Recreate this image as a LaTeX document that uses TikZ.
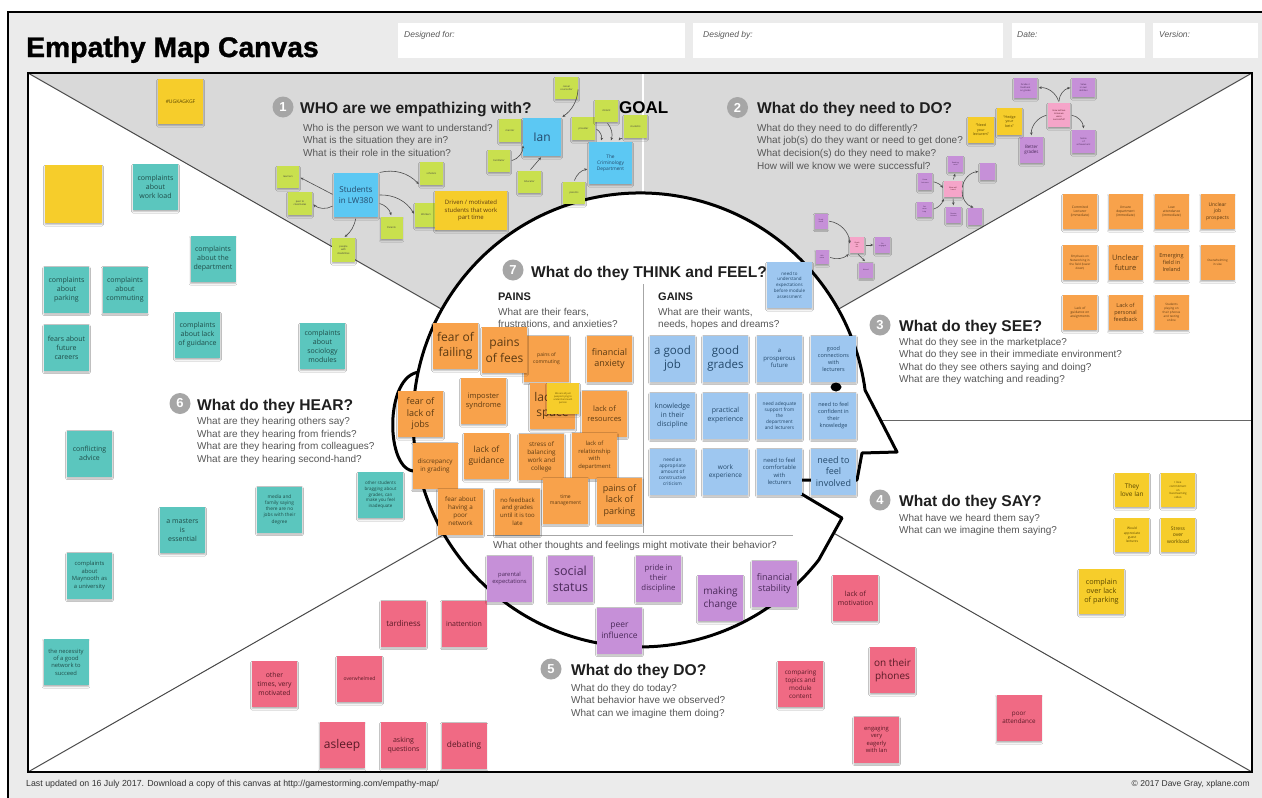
\documentclass[tikz,border=0pt]{standalone}
\usepackage{fontspec}
\setmainfont{Liberation Sans}
\newfontfamily\stf{Open Sans}
\newfontfamily\titlef{Liberation Sans Bold}[FakeBold=1.3]
\usetikzlibrary{shadows.blur,arrows.meta}
\definecolor{cbg}{HTML}{EBEBEB}
\definecolor{ctop}{HTML}{D9D9D9}
\definecolor{cteal}{HTML}{5BC6BE}
\definecolor{cyel}{HTML}{F6CD2B}
\definecolor{clime}{HTML}{C9E04E}
\definecolor{csblue}{HTML}{5CC8F3}
\definecolor{corange}{HTML}{F8A24B}
\definecolor{clblue}{HTML}{9EC7F0}
\definecolor{cpurp}{HTML}{C690D8}
\definecolor{cred}{HTML}{F06A84}
\definecolor{cpink}{HTML}{F5A5C9}
\definecolor{cnum}{HTML}{A6A6A6}
\definecolor{cq}{HTML}{575757}
\definecolor{cline}{HTML}{4A4A4A}
\definecolor{cttext}{HTML}{1F4D49}
\definecolor{cbtext}{HTML}{24496B}
\definecolor{cotext}{HTML}{5C3A12}
\definecolor{cptext}{HTML}{4B2A5A}
\definecolor{crtext}{HTML}{5A1A26}
\definecolor{cytext}{HTML}{5A4700}
\tikzset{
 st/.style={rectangle, inner sep=0.5pt, align=center, text=black!78,
   blur shadow={shadow xshift=0pt, shadow yshift=-1.6pt, shadow blur radius=1.4pt, shadow blur steps=4, shadow opacity=30}},
 sz/.style 2 args={minimum width=#1, minimum height=#2},
 fz/.style={font={\stf\pgfmathsetmacro\lsk{1.28*#1}\fontsize{#1}{\lsk}\selectfont}},
 steal/.style={st, fill=cteal, text=cttext, sz={45}{46}},
 syel/.style={st, fill=cyel, text=cytext},
 slime/.style={st, fill=clime, text=black!75, sz={22}{22}, fz=2.5},
 sblu/.style={st, fill=csblue, text=cbtext},
 sora/.style={st, fill=corange, text=cotext, sz={45}{46}},
 slbl/.style={st, fill=clblue, text=cbtext, sz={45}{46}},
 spur/.style={st, fill=cpurp, text=cptext, sz={45}{46}},
 sred/.style={st, fill=cred, text=crtext, sz={45}{46}},
 sdo/.style={st, fill=cpurp, text=cptext, fz=2.3},
 spk/.style={st, fill=cpink, text=crtext, fz=2.3},
 numc/.style={circle, fill=cnum, text=white, inner sep=0pt, minimum size=21, font=\bfseries\fontsize{13}{13}\selectfont},
 hd/.style={anchor=base west, inner sep=0pt, text=black!88, font=\bfseries\fontsize{15.6}{18}\selectfont},
 qs/.style={anchor=base west, inner sep=0pt, text=cq, font=\fontsize{10}{12}\selectfont},
 conn/.style={draw=black!70, line width=0.6pt, -{Stealth[length=3pt,width=2.6pt]}, shorten >=1.5pt, shorten <=1.5pt},
}
\begin{document}
\begin{tikzpicture}[x=1pt,y=-1pt]
\useasboundingbox (0,0) rectangle (1262,798);
% background and frame
\fill[white] (0,0) rectangle (1262,798);
\fill[cbg] (8,12) rectangle (1262,798);
\draw[line width=2pt] (8,798) -- (8,12) -- (1262,12);
\node[anchor=base west, inner sep=0pt, font=\titlef\fontsize{28.3}{31}\selectfont] (title) at (26,57) {Empathy Map Canvas};
\fill[white] (398,23) rectangle (685,58);
\fill[white] (693,23) rectangle (1003,58);
\fill[white] (1012,23) rectangle (1145,58);
\fill[white] (1153,23) rectangle (1258,58);
\node[anchor=base west, inner sep=0pt, text=black!65, font=\itshape\fontsize{8.5}{10}\selectfont] (lfor) at (404,37) {Designed for:};
\node[anchor=base west, inner sep=0pt, text=black!65, font=\itshape\fontsize{8.5}{10}\selectfont] (lby) at (703,37) {Designed by:};
\node[anchor=base west, inner sep=0pt, text=black!65, font=\itshape\fontsize{8.5}{10}\selectfont] (ldate) at (1017,37) {Date:};
\node[anchor=base west, inner sep=0pt, text=black!65, font=\itshape\fontsize{8.5}{10}\selectfont] (lver) at (1159,37) {Version:};
% canvas
\fill[white] (28,73) rectangle (1252,772);
\fill[ctop] (28,73) -- (1252,73) -- (640,422.5) -- cycle;
\draw[white, line width=1.5pt] (643,73) -- (643,320);
\draw[cline, line width=1pt] (28,73) -- (640,422.5) -- (1252,73);
\draw[cline, line width=1pt] (28,772) -- (640,422.5) -- (1252,772);
\draw[black!60, line width=1pt] (640,420) -- (1252,420);
\draw[line width=2pt] (28,73) rectangle (1252,772);
% head
\draw[line width=3pt, fill=white] (420,372) .. controls (384,374) and (385,472) .. (415,471);
\draw[line width=3pt, fill=white, line join=round] (865,390) -- (897,452) -- (862,453) -- (857,480) -- (778,480) -- (842,518) -- (818.7,560) arc[start angle=38.1, end angle=352.4, radius=227] -- cycle;
\fill (836,387) ellipse [x radius=5.5, y radius=4.5];
\draw[black!35, line width=0.8pt] (643,284) -- (643,533);
\draw[black!35, line width=0.8pt] (487,535) -- (793,535);
% headings
\node[numc] (n1) at (283,107) {1};
\node[hd] (h1) at (300,113) {WHO are we empathizing with?};
\node[qs] (q11) at (303,131) {Who is the person we want to understand?};
\node[qs] (q12) at (303,143.8) {What is the situation they are in?};
\node[qs] (q13) at (303,156.6) {What is their role in the situation?};
\node[anchor=base west, inner sep=0pt, font=\bfseries\fontsize{17}{20}\selectfont] (goal) at (619,113) {GOAL};
\node[numc] (n2) at (737.5,107.5) {2};
\node[hd] (h2) at (757,113) {What do they need to DO?};
\node[qs] (q21) at (757,131) {What do they need to do differently?};
\node[qs] (q22) at (757,143.8) {What job(s) do they want or need to get done?};
\node[qs] (q23) at (757,156.6) {What decision(s) do they need to make?};
\node[qs] (q24) at (757,169.4) {How will we know we were successful?};
\node[numc] (n3) at (880,325) {3};
\node[hd] (h3) at (899,331) {What do they SEE?};
\node[qs] (q31) at (899,345) {What do they see in the marketplace?};
\node[qs] (q32) at (899,357.6) {What do they see in their immediate environment?};
\node[qs] (q33) at (899,370.2) {What do they see others saying and doing?};
\node[qs] (q34) at (899,382.8) {What are they watching and reading?};
\node[numc] (n4) at (880,500) {4};
\node[hd] (h4) at (899,506) {What do they SAY?};
\node[qs] (q41) at (899,521) {What have we heard them say?};
\node[qs] (q42) at (899,533.6) {What can we imagine them saying?};
\node[numc] (n5) at (551,669) {5};
\node[hd] (h5) at (571,675) {What do they DO?};
\node[qs] (q51) at (571,691) {What do they do today?};
\node[qs] (q52) at (571,703.6) {What behavior have we observed?};
\node[qs] (q53) at (571,716.2) {What can we imagine them doing?};
\node[numc] (n6) at (180,403.5) {6};
\node[hd] (h6) at (197,410) {What do they HEAR?};
\node[qs] (q61) at (197,424.5) {What are they hearing others say?};
\node[qs] (q62) at (197,437.1) {What are they hearing from friends?};
\node[qs] (q63) at (197,449.7) {What are they hearing from colleagues?};
\node[qs] (q64) at (197,462.3) {What are they hearing second-hand?};
\node[numc] (n7) at (513,270) {7};
\node[hd] (h7) at (531,277) {What do they THINK and FEEL?};
\node[anchor=base west, inner sep=0pt, text=black!88, font=\bfseries\fontsize{11}{13}\selectfont] (pains) at (498,300) {PAINS};
\node[qs] (pq1) at (498,315) {What are their fears,};
\node[qs] (pq2) at (498,327.6) {frustrations, and anxieties?};
\node[anchor=base west, inner sep=0pt, text=black!88, font=\bfseries\fontsize{11}{13}\selectfont] (gains) at (658,300) {GAINS};
\node[qs] (gq1) at (658,315) {What are their wants,};
\node[qs] (gq2) at (658,327.6) {needs, hopes and dreams?};
\node[qs] (mq) at (493,548.5) {What other thoughts and feelings might motivate their behavior?};
% footer
\node[anchor=base west, inner sep=0pt, text=black!80, font=\fontsize{8.8}{10}\selectfont] (foot1) at (26,786) {Last updated on 16 July 2017. Download a copy of this canvas at http://gamestorming.com/empathy-map/};
\node[anchor=base east, inner sep=0pt, text=black!80, font=\fontsize{8.5}{10}\selectfont] (foot2) at (1250,786) {© 2017 Dave Gray, xplane.com};
% HEAR stickies
\node[syel, sz={45}{45}, fz=5] (y1) at (180.5,101.5) {\#UGKAGKGF};
\node[syel, sz={57}{58}] (y2) at (73.5,194) {};
\node[steal, fz=7] (t1) at (155.5,187) {complaints\\about\\work load};
\node[steal, fz=7] (t2) at (213,259) {complaints\\about the\\department};
\node[steal, fz=7] (t3) at (66.5,289.5) {complaints\\about\\parking};
\node[steal, fz=7] (t4) at (125,289.5) {complaints\\about\\commuting};
\node[steal, fz=7] (t5) at (197.5,335) {complaints\\about lack\\of guidance};
\node[steal, fz=7] (t6) at (66.5,347.5) {fears about\\future\\careers};
\node[steal, fz=7] (t7) at (322.5,346) {complaints\\about\\sociology\\modules};
\node[steal, fz=7] (t8) at (89.5,453.5) {conflicting\\advice};
\node[steal, fz=4.5] (t9) at (380.5,495) {other students\\bragging about\\grades, can\\make you feel\\inadequate};
\node[steal, fz=4.8] (t10) at (279.5,509.5) {media and\\family saying\\there are no\\jobs with their\\degree};
\node[steal, fz=7] (t11) at (182.5,530) {a masters\\is\\essential};
\node[steal, fz=5.8] (t12) at (89.5,575.5) {complaints\\about\\Maynooth as\\a university};
\node[steal, fz=5.8] (t13) at (66,662) {the necessity\\of a good\\network to\\succeed};
% WHO stickies
\node[slime] (g1) at (288,177) {learners};
\node[slime, sz={24}{23}] (g2) at (300,203.5) {peer to\\classmates};
\node[sblu, sz={44}{44}, fz=8] (b1) at (356,195) {Students\\in LW380};
\node[slime] (g3) at (391.5,228) {Parents};
\node[slime, sz={22}{24}] (g4) at (426,215) {Workers};
\node[slime, sz={23}{24}] (g5) at (343.5,250) {people\\with\\disabilities};
\node[slime, sz={23}{23}] (g6) at (431.5,173.5) {scholars};
\node[syel, sz={72}{39}, fz=6, text=cotext] (y3) at (471,210.5) {Driven / motivated\\students that work\\part time};
\node[slime, sz={22}{23}] (g7) at (510,130.5) {mentor};
\node[sblu, sz={38}{38}, fz=12] (b2) at (542,137) {Ian};
\node[slime] (g8) at (499,161) {Facilitator};
\node[slime, sz={23}{22}] (g9) at (529.5,182) {Educator};
\node[slime, sz={23}{22}] (g10) at (566.5,88) {career\\counsellor};
\node[slime, sz={23}{23}] (g11) at (583.5,128.5) {provider};
\node[slime, sz={23}{22}] (g12) at (606.5,111) {distant};
\node[slime, sz={23}{23}] (g13) at (635.5,126.5) {students};
\node[sblu, sz={43}{42}, fz=4.8] (b3) at (610.5,163) {The\\Criminology\\Department};
\node[slime] (g14) at (574,193) {parents};
\draw[conn] (b1.west) -- (g1.east);
\draw[conn] (b1.205) to[bend left=35] (g2.east);
\draw[conn] (b1.north east) to[bend left=30] (g6.south west);
\draw[conn] (b1.east) to[bend left=30] (g4.west);
\draw[conn] (b1.340) to[bend left=30] (g3.north);
\draw[conn] (b1.south) to[bend left=20] (g5.north);
\draw[conn] (g10.east) to[bend left=25] (b2.north east);
\draw[conn] (g8.east) to[bend right=40] (b2.200);
\draw[conn] (g9.north) -- (b2.south);
\draw[conn] (g11.east) to[bend left=40] (b3.115);
\draw[conn] (g12.south) to[bend left=30] (b3.north);
\draw[conn] (g13.south west) to[bend right=30] (b3.70);
\draw[conn] (g14.north) to[bend left=30] (b3.195);
% DO (need) stickies
\node[sdo, sz={23}{20}] (d1) at (1025.5,88) {Grades /\\feedback\\on grades};
\node[sdo, sz={23}{19}] (d2) at (1083.5,87.5) {Value\\in own\\abilities};
\node[spk, sz={22}{24}] (k1) at (1059,115) {How will we\\know we\\were\\successful?};
\node[sdo, sz={23}{23}] (d3) at (1083.5,141.5) {Sense\\of\\achievement};
\node[sdo, sz={23}{26}, fz=4.5] (d4) at (1031.5,150) {Better\\grades};
\node[syel, sz={26}{26}, fz=3.6] (y4) at (981,130) {“Need\\your\\lecturers”};
\node[syel, sz={25}{27}, fz=3.6] (y5) at (1009.5,121.5) {“Hedge\\your\\bets”};
\node[sdo, sz={15}{16}, fz=1.8] (d5) at (955.5,164) {Reading\\more};
\node[sdo, sz={15}{17}] (d6) at (987.5,171.5) {};
\node[sdo, sz={14}{17}, fz=1.8] (d7) at (925,181.5) {Know\\lecturers};
\node[spk, sz={18}{16}, fz=1.8] (k2) at (953,189) {What will\\I need};
\node[sdo, sz={15}{15}, fz=1.8] (d8) at (924.5,209.5) {Get\\more\\help};
\node[sdo, sz={15}{16}, fz=1.8] (d9) at (953.5,215) {Greater\\interest};
\node[sdo, sz={14}{17}] (d10) at (975,216.5) {};
\node[spk, sz={14}{16}, fz=1.8] (k3) at (857,245) {Goals\\for\\me};
\node[sdo, sz={15}{16}, fz=1.8] (d11) at (882.5,245) {Be\\engaged};
\node[sdo, sz={13}{15}, fz=1.8] (d12) at (821,221) {Study\\more};
\node[sdo, sz={13}{14}, fz=1.8] (d13) at (822,257) {Ask\\more};
\node[sdo, sz={14}{15}, fz=1.8] (d14) at (866,270) {Attend};
\draw[conn] (k1.north) to[bend right=40] (d1.east);
\draw[conn] (k1.north) to[bend left=40] (d2.west);
\draw[conn] (k1.east) to[bend left=40] (d3.north);
\draw[conn] (k1.west) to[bend right=40] (d4.north);
\draw[conn] (k2.north) -- (d5.south);
\draw[conn] (k2.east) to[bend left=40] (d6.west);
\draw[conn] (k2.east) to[bend right=40] (d10.north);
\draw[conn] (k2.south) -- (d9.north);
\draw[conn] (d7.east) to[bend left=20] (k2.west);
\draw[conn] (d8.east) to[bend right=30] (k2.south west);
\draw[conn] (k3.east) -- (d11.west);
\draw[conn] (d12.east) to[bend left=40] (k3.west);
\draw[conn] (d13.east) to[bend right=30] (k3.south west);
\draw[conn] (k3.south) -- (d14.north);
% SEE stickies
\node[sora, sz={34}{35}, fz=3.3] (o1) at (1080,211.5) {Commited\\Lecturer\\(immediate)};
\node[sora, sz={34}{35}, fz=3.3] (o2) at (1125.5,211.5) {Unsure\\department\\(immediate)};
\node[sora, sz={34}{35}, fz=3.3] (o3) at (1171.5,211.5) {Low\\attendance\\(immediate)};
\node[sora, sz={34}{35}, fz=5] (o4) at (1217.5,211.5) {Unclear\\job\\prospects};
\node[sora, sz={34}{35}, fz=3] (o5) at (1080,262.5) {Emphasis on\\Networking in\\the field (lower\\down)};
\node[sora, sz={34}{35}, fz=7.5] (o6) at (1125.5,262.5) {Unclear\\future};
\node[sora, sz={34}{35}, fz=5.5] (o7) at (1171.5,262.5) {Emerging\\field in\\Ireland};
\node[sora, sz={34}{35}, fz=3] (o8) at (1217.5,262.5) {Overwhelming\\in size};
\node[sora, sz={34}{35}, fz=3.3] (o9) at (1080,312.5) {Lack of\\guidance on\\assignments};
\node[sora, sz={34}{35}, fz=5.5] (o10) at (1125.5,312.5) {Lack of\\personal\\feedback};
\node[sora, sz={34}{35}, fz=3] (o11) at (1171.5,312.5) {Students\\playing on\\their phones\\and texting\\online};
% SAY stickies
\node[syel, sz={34}{34}, fz=6.5] (s1) at (1132,490) {They\\love Ian};
\node[syel, sz={34}{34}, fz=2.8] (s2) at (1178,490) {I love\\commitment\\on\\livestreaming\\video};
\node[syel, sz={34}{34}, fz=3.3] (s3) at (1132,535) {Would\\appreciate\\guest\\lectures};
\node[syel, sz={34}{34}, fz=5] (s4) at (1178,535) {Stress\\over\\workload};
\node[syel, sz={45}{45}, fz=7.3] (s5) at (1101.5,591.5) {complain\\over lack\\of parking};
% DO (behaviour) stickies
\node[sred, fz=8] (p1) at (403.5,623.5) {tardiness};
\node[sred, fz=7] (p2) at (464,623.5) {inattention};
\node[sred, fz=6.8] (p3) at (274.5,684) {other\\times, very\\motivated};
\node[sred, fz=5] (p4) at (359.5,679) {overwhelmed};
\node[sred, fz=12] (p5) at (342,745) {asleep};
\node[sred, fz=7] (p6) at (403.5,745) {asking\\questions};
\node[sred, fz=8.3] (p7) at (464,745.5) {debating};
\node[sred, fz=7] (p8) at (855.5,598) {lack of\\motivation};
\node[sred, fz=6.3] (p9) at (800.5,684) {comparing\\topics and\\module\\content};
\node[sred, fz=10] (p10) at (892.5,670) {on their\\phones};
\node[sred, fz=5.8] (p11) at (876.5,739.5) {engaging\\very\\eagerly\\with Ian};
\node[sred, fz=6.3] (p12) at (1019,718) {poor\\attendance};
% motivation stickies
\node[spur, fz=5.8] (m1) at (509.5,578.5) {parental\\expectations};
\node[spur, fz=12.5] (m2) at (570.5,578.5) {social\\status};
\node[spur, fz=7.8] (m3) at (658.5,578.5) {pride in\\their\\discipline};
\node[spur, fz=10] (m4) at (720.5,598) {making\\change};
\node[spur, fz=9] (m5) at (774.5,583.5) {financial\\stability};
\node[spur, fz=8.5] (m6) at (619.5,630.5) {peer\\influence};
% PAINS stickies
\node[sora, fz=5] (a3) at (546.5,358.5) {pains of\\commuting};
\node[sora, fz=12] (a1) at (455.5,346) {fear of\\failing};
\node[sora, fz=12] (a2) at (504.5,350) {pains\\of fees};
\node[sora, fz=9] (a4) at (609.5,358.5) {financial\\anxiety};
\node[sora, fz=9] (a5) at (420.5,414) {fear of\\lack of\\jobs};
\node[sora, fz=7.5] (a6) at (483.5,401) {imposter\\syndrome};
\node[sora, fz=12] (a7) at (552.5,406) {lack of\\space};
\node[syel, sz={32}{31}, fz=2.4] (ys) at (563,398.5) {We are all just\\people trying to\\understand each\\person};
\node[sora, fz=7.5] (a8) at (604.5,413.5) {lack of\\resources};
\node[sora, fz=6.3] (a9) at (435,465.5) {discrepancy\\in grading};
\node[sora, fz=8.5] (a10) at (486.5,456) {lack of\\guidance};
\node[sora, fz=6.3] (a11) at (541.5,456.5) {stress of\\balancing\\work and\\college};
\node[sora, fz=5.8] (a12) at (594.5,455.5) {lack of\\relationship\\with\\department};
\node[sora, fz=6.3] (a13) at (460.5,511.5) {fear about\\having a\\poor\\network};
\node[sora, fz=6] (a14) at (517.5,511.5) {no feedback\\and grades\\until it is too\\late};
\node[sora, fz=5] (a15) at (565.5,500.5) {time\\management};
\node[sora, fz=9] (a16) at (619.5,500.5) {pains of\\lack of\\parking};
% GAINS stickies
\node[slbl, fz=4.5] (e13) at (789.5,285) {need to\\understand\\expectations\\before module\\assessment};
\node[slbl, fz=11.5] (e1) at (672.5,358.5) {a good\\job};
\node[slbl, fz=11.5] (e2) at (725.5,358.5) {good\\grades};
\node[slbl, fz=6] (e3) at (779.5,358.5) {a\\prosperous\\future};
\node[slbl, fz=5.5] (e4) at (833.5,358.5) {good\\connections\\with\\lecturers};
\node[slbl, fz=7] (e5) at (672.5,415.5) {knowledge\\in their\\discipline};
\node[slbl, fz=7] (e6) at (725.5,415.5) {practical\\experience};
\node[slbl, fz=4.8] (e7) at (779.5,415.5) {need adequate\\support from\\the\\department\\and lecturers};
\node[slbl, fz=5.5] (e8) at (833.5,415.5) {need to feel\\confident in\\their\\knowledge};
\node[slbl, fz=4.8] (e9) at (672.5,471.5) {need an\\appropriate\\amount of\\constructive\\criticism};
\node[slbl, fz=6.5] (e10) at (725.5,471.5) {work\\experience};
\node[slbl, fz=5.8] (e11) at (779.5,471.5) {need to feel\\comfortable\\with\\lecturers};
\node[slbl, fz=9] (e12) at (833.5,471.5) {need to\\feel\\involved};
\end{tikzpicture}
\end{document}
